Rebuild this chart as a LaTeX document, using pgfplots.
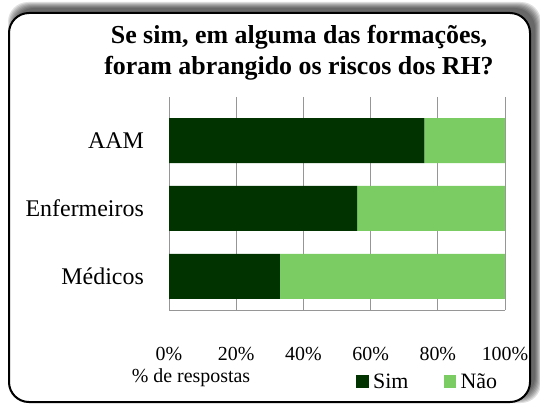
\documentclass[border=0pt]{standalone}
\usepackage{pgfplots}
\pgfplotsset{compat=1.18}
\usepackage{fontspec}
\setmainfont{Liberation Serif}
\definecolor{simc}{RGB}{0,51,0}
\definecolor{naoc}{RGB}{124,204,100}
\definecolor{gridc}{RGB}{150,150,150}
\begin{document}
\begin{tikzpicture}[x=1bp,y=1bp]
\path[use as bounding box] (0,0) rectangle (540,404);
\foreach \e in {6,5,4,3,2,1,0} {
  \fill[black,opacity=0.12,rounded corners=20bp] (14-\e,7-\e) rectangle (535+\e,396+\e);
}
\filldraw[fill=white,draw=black,line width=2bp,rounded corners=20bp] (9,2) rectangle (530,391);
\begin{axis}[
  at={(169bp,94bp)}, anchor=south west,
  scale only axis, width=336bp, height=213bp,
  xbar stacked, bar width=45bp,
  xmin=0, xmax=100, ymin=-0.493, ymax=2.64,
  ytick={0,1,2}, yticklabels={Médicos,Enfermeiros,AAM},
  xtick={0,20,40,60,80,100},
  xticklabels={0\%,20\%,40\%,60\%,80\%,100\%},
  xmajorgrids, major grid style={gridc, line width=1bp},
  axis x line*=bottom, axis y line*=left,
  axis line style={gridc, line width=1bp, -},
  tick style={draw=none},
  yticklabel style={font=\fontsize{24}{28}\selectfont, anchor=base east, inner sep=0pt, xshift=-25bp, yshift=-8bp},
  xticklabel style={font=\fontsize{20}{24}\selectfont, anchor=base, inner sep=0pt, yshift=-50bp},
  legend columns=2,
  legend style={at={(axis description cs:0.5565,-0.336)}, anchor=west, draw=none, fill=none, inner sep=0pt,
    font=\fontsize{22}{26}\selectfont, nodes={inner sep=0pt},
    /tikz/every even column/.append style={column sep=35bp}},
  legend image code/.code={\fill[#1] (0bp,-6.5bp) rectangle (12.5bp,6.5bp); \path (17bp,0bp);},
]
\addplot[fill=simc, draw=none] coordinates {(33,0) (56,1) (76,2)};
\addplot[fill=naoc, draw=none] coordinates {(67,0) (44,1) (24,2)};
\legend{Sim,Não}
\end{axis}
\node[anchor=base, font=\bfseries\fontsize{26}{31}\selectfont] at (299,361) {Se sim, em alguma das formações,};
\node[anchor=base, font=\bfseries\fontsize{26}{31}\selectfont] at (299,330) {foram abrangido os riscos dos RH?};
\node[anchor=base, font=\fontsize{20}{24}\selectfont] at (191,22) {\% de respostas};
\end{tikzpicture}
\end{document}
